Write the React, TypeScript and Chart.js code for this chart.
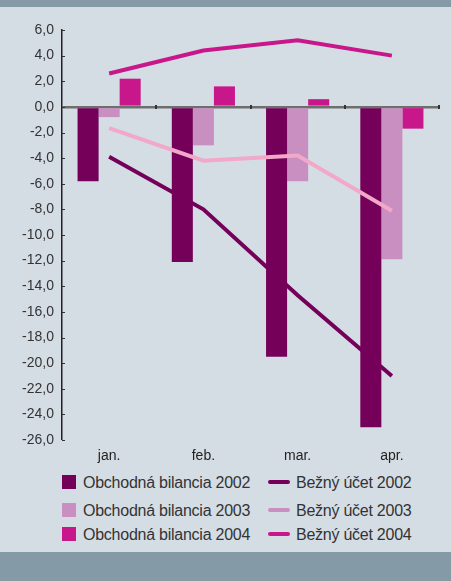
import React, { useEffect, useRef } from "react";
import { Chart, registerables } from "chart.js";
Chart.register(...registerables);

const months = ["jan.", "feb.", "mar.", "apr."];
const trade2002 = [-5.8, -12.1, -19.5, -25.0];
const trade2003 = [-0.8, -3.0, -5.8, -11.9];
const trade2004 = [2.2, 1.6, 0.6, -1.7];
const current2002 = [-3.9, -8.0, -14.7, -21.0];
const current2003 = [-1.65, -4.2, -3.8, -8.1];
const current2004 = [2.6, 4.4, 5.2, 4.0];
const yMin = -26;
const yMax = 6;
const yStep = 2;

const C_DARK = "#74005a";
const C_LIGHT = "#c98fc0";
const C_MAG = "#c8178b";
const C_PINK = "#f2a8c8";
const BG = "#d5dde4";
const BAND = "#859aa7";
const FONT = "'Liberation Sans', Arial, sans-serif";

const legendRows = [
  { bar: "Obchodná bilancia 2002", barColor: C_DARK, line: "Bežný účet 2002", lineColor: C_DARK, top: 475 },
  { bar: "Obchodná bilancia 2003", barColor: C_LIGHT, line: "Bežný účet 2003", lineColor: C_LIGHT, top: 503 },
  { bar: "Obchodná bilancia 2004", barColor: C_MAG, line: "Bežný účet 2004", lineColor: C_MAG, top: 527 },
];

const tickPlugin = {
  id: "tickMarks",
  afterDatasetsDraw(chart: any) {
    const { ctx, chartArea } = chart;
    const x = chart.scales.x;
    const y = chart.scales.y;
    ctx.save();
    ctx.strokeStyle = "#333";
    ctx.lineWidth = 1;
    y.ticks.forEach((t: any) => {
      const py = Math.round(y.getPixelForValue(t.value)) + 0.5;
      ctx.beginPath();
      ctx.moveTo(chartArea.left, py);
      ctx.lineTo(chartArea.left + 3, py);
      ctx.stroke();
    });
    const zy = y.getPixelForValue(0);
    ctx.strokeStyle = "#333";
    ctx.lineWidth = 2;
    for (let i = 0; i < months.length; i++) {
      const half = (x.getPixelForValue(1) - x.getPixelForValue(0)) / 2;
      const px = Math.round(x.getPixelForValue(i) + half);
      ctx.beginPath();
      ctx.moveTo(px, zy - 2);
      ctx.lineTo(px, zy + 2);
      ctx.stroke();
    }
    ctx.restore();
  },
};

function ChartCanvas() {
  const ref = useRef<HTMLCanvasElement | null>(null);
  useEffect(() => {
    if (!ref.current) return;
    const lineDs = (label: string, data: number[], color: string, order: number) => ({
      type: "line" as const,
      label,
      data,
      borderColor: color,
      backgroundColor: color,
      borderWidth: 4,
      pointRadius: 0,
      tension: 0,
      order,
    });
    const barDs = (label: string, data: number[], color: string) => ({
      type: "bar" as const,
      label,
      data,
      backgroundColor: color,
      borderWidth: 0,
      barPercentage: 1,
      categoryPercentage: 0.67,
      order: 10,
    });
    const chart = new Chart(ref.current, {
      data: {
        labels: months,
        datasets: [
          barDs("Obchodná bilancia 2002", trade2002, C_DARK),
          barDs("Obchodná bilancia 2003", trade2003, C_LIGHT),
          barDs("Obchodná bilancia 2004", trade2004, C_MAG),
          lineDs("Bežný účet 2002", current2002, C_DARK, 1),
          lineDs("Bežný účet 2003", current2003, C_PINK, 1),
          lineDs("Bežný účet 2004", current2004, C_MAG, 1),
        ],
      } as any,
      options: {
        animation: false,
        responsive: false,
        maintainAspectRatio: false,
        layout: { padding: { top: 30, right: 12, left: 0, bottom: 0 } },
        plugins: { legend: { display: false }, tooltip: { enabled: false } },
        scales: {
          x: {
            grid: { display: false, drawTicks: false },
            border: { display: false },
            ticks: { color: "#222", font: { family: FONT, size: 14 }, padding: 8 },
            afterFit: (s: any) => {
              s.height = 30;
            },
          },
          y: {
            min: yMin,
            max: yMax,
            ticks: {
              stepSize: yStep,
              color: "#333",
              font: { family: FONT, size: 14 },
              padding: 8,
              callback: (v: any) => Number(v).toFixed(1).replace(".", ","),
            },
            grid: {
              drawTicks: false,
              color: (c: any) => (c.tick && c.tick.value === 0 ? "#6e6e6e" : "rgba(0,0,0,0)"),
              lineWidth: (c: any) => (c.tick && c.tick.value === 0 ? 2.5 : 0),
            },
            border: { display: true, color: "#222", width: 1.5 },
            afterFit: (s: any) => {
              s.width = 62;
            },
          },
        },
      },
      plugins: [tickPlugin],
    });
    return () => chart.destroy();
  }, []);
  return <canvas ref={ref} width={451} height={470} style={{ position: "absolute", left: 0, top: 0, width: 451, height: 470 }} />;
}

export default function App() {
  const textStyle = { position: "absolute" as const, fontSize: 16, letterSpacing: "-0.25px", lineHeight: "20px", color: "#333", whiteSpace: "nowrap" as const };
  return (
    <div style={{ position: "fixed", left: 0, top: 0, width: 451, height: 581, background: BG, overflow: "hidden", fontFamily: FONT }}>
      <div style={{ position: "absolute", left: 0, top: 0, width: 451, height: 7, background: BAND }} />
      <ChartCanvas />
      {legendRows.map((r, i) => (
        <React.Fragment key={i}>
          <div style={{ position: "absolute", left: 62, top: r.top, width: 14, height: 14, background: r.barColor }} />
          <div style={{ ...textStyle, left: 83, top: r.top - 2 }}>{r.bar}</div>
          <div style={{ position: "absolute", left: 268, top: r.top + 5, width: 22, height: 4, borderRadius: 2, background: r.lineColor }} />
          <div style={{ ...textStyle, left: 296, top: r.top - 2 }}>{r.line}</div>
        </React.Fragment>
      ))}
      <div style={{ position: "absolute", left: 0, top: 552, width: 451, height: 29, background: BAND }} />
    </div>
  );
}
